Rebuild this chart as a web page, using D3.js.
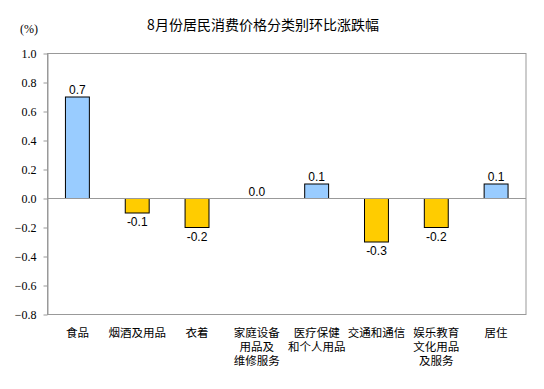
<!DOCTYPE html>
<html>
<head>
<meta charset="utf-8">
<script src="https://cdn.jsdelivr.net/npm/d3@7"></script>
<style>
  body { margin: 0; background: #fff; }
  .y-axis text { font-family: "Liberation Serif", "Times New Roman", serif; font-size: 12px; fill: #000; }
  .y-axis path, .y-axis line { stroke: #999; }
  .cat-label { font-family: "Noto Sans CJK SC", sans-serif; font-size: 11.5px; fill: #000; }
  .val-label { font-family: "Liberation Sans", Arial, sans-serif; font-size: 12px; fill: #000; }
</style>
</head>
<body>
<div id="chart"></div>
<script>
const title = '8月份居民消费价格分类别环比涨跌幅';
const categories = [
    ['食品'],
    ['烟酒及用品'],
    ['衣着'],
    ['家庭设备', '用品及', '维修服务'],
    ['医疗保健', '和个人用品'],
    ['交通和通信'],
    ['娱乐教育', '文化用品', '及服务'],
    ['居住']
];
const values = [0.7, -0.1, -0.2, 0.0, 0.1, -0.3, -0.2, 0.1];
const yTicks = [1.0, 0.8, 0.6, 0.4, 0.2, 0.0, -0.2, -0.4, -0.6, -0.8];

const width = 544;
const height = 389;
const plotLeft = 47.5, plotRight = 526, plotTop = 53.5, plotBottom = 314.5;

const svg = d3.select('#chart')
    .append('svg')
    .attr('width', width)
    .attr('height', height);

const xScale = d3.scaleBand()
    .domain(d3.range(values.length))
    .range([plotLeft, plotRight])
    .paddingInner(0.6)
    .paddingOuter(0.3);

const yScale = d3.scaleLinear()
    .domain([-0.8, 1.0])
    .range([plotBottom, plotTop]);

//title
svg.append('text')
    .attr('x', 263)
    .attr('y', 30)
    .attr('text-anchor', 'middle')
    .style('font-family', '"Noto Sans CJK SC", sans-serif')
    .style('font-size', '14px')
    .text(title);

svg.append('text')
    .attr('x', 20)
    .attr('y', 33)
    .style('font-family', '"Liberation Serif", serif')
    .style('font-size', '12px')
    .text('(%)');

//plot frame
svg.append('rect')
    .attr('x', plotLeft)
    .attr('y', plotTop)
    .attr('width', plotRight - plotLeft)
    .attr('height', plotBottom - plotTop)
    .attr('fill', 'none')
    .attr('stroke', '#999');

//y axis
const yAxis = d3.axisLeft(yScale)
    .tickValues(yTicks)
    .tickFormat(d3.format('.1f'))
    .tickSizeOuter(0)
    .tickSizeInner(4)
    .tickPadding(7);

svg.append('g')
    .classed('y-axis', true)
    .attr('transform', 'translate(' + plotLeft + ',0)')
    .call(yAxis);

//bars
svg.selectAll('rect.bar')
    .data(values)
    .enter()
    .append('rect')
    .classed('bar', true)
    .attr('x', (d, i) => xScale(i))
    .attr('width', xScale.bandwidth())
    .attr('y', d => yScale(Math.max(d, 0)))
    .attr('height', d => Math.abs(yScale(d) - yScale(0)))
    .attr('fill', d => d > 0 ? '#99CCFF' : '#FFCC00')
    .attr('stroke', d => d === 0 ? 'none' : '#000')
    .attr('stroke-width', 1);

//zero line
svg.append('line')
    .attr('x1', plotLeft)
    .attr('x2', plotRight)
    .attr('y1', yScale(0))
    .attr('y2', yScale(0))
    .attr('stroke', '#999');

//value labels
svg.selectAll('text.val-label')
    .data(values)
    .enter()
    .append('text')
    .classed('val-label', true)
    .attr('x', (d, i) => xScale(i) + xScale.bandwidth() / 2)
    .attr('y', d => d < 0 ? yScale(d) + 13 : yScale(d) - 3)
    .attr('text-anchor', 'middle')
    .text(d => d3.format('.1f')(d).replace('−', '-'));

//category labels, one text per line
const catLines = [];
categories.forEach((lines, i) => {
    lines.forEach((t, j) => catLines.push({ i: i, j: j, t: t }));
});

svg.selectAll('text.cat-label')
    .data(catLines)
    .enter()
    .append('text')
    .classed('cat-label', true)
    .attr('text-anchor', 'middle')
    .attr('x', d => xScale(d.i) + xScale.bandwidth() / 2)
    .attr('y', d => 337 + d.j * 14)
    .text(d => d.t);
</script>
</body>
</html>
